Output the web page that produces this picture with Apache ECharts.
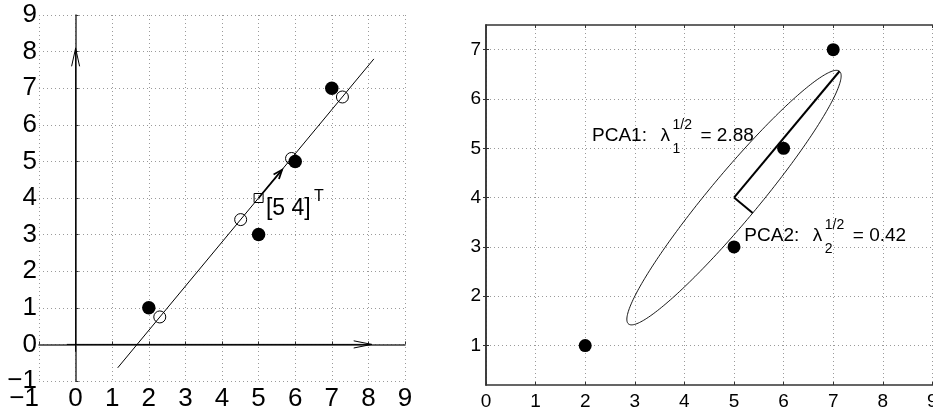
<!DOCTYPE html>
<html><head><meta charset="utf-8">
<script src="https://cdn.jsdelivr.net/npm/echarts@6/dist/echarts.min.js"></script>
<style>html,body{margin:0;padding:0;background:#fff;overflow:hidden}#c{width:933px;height:409px}</style>
</head><body><div id="c"></div>
<script>
// ---------- data ----------
const samplePoints = [[2, 1], [5, 3], [6, 5], [7, 7]];
const meanPoint = [[5, 4]];
const projectedPoints = [[2.30, 0.75], [4.51, 3.41], [5.90, 5.08], [7.29, 6.76]];
const fitLine = [[1.15, -0.64], [8.15, 7.80]];
const leftArrows = [[-0.24, 0, 8.09, 0], [0, -0.2, 0, 8.09], [5, 4, 5.64, 4.77]];
const pca1Line = [[5, 4], [7.127, 6.562]];
const pca2Line = [[5, 4], [5.377, 3.687]];
const ellipseParams = [[5, 4, 3.33, 0.49, 50.3]]; // center x, center y, semi-axis 1, semi-axis 2, angle (deg)
const leftTicks = [-1, 0, 1, 2, 3, 4, 5, 6, 7, 8, 9];
const rightXTicks = [0, 1, 2, 3, 4, 5, 6, 7, 8, 9];
const rightYTicks = [1, 2, 3, 4, 5, 6, 7];
const rightYRange = [0.2, 7.5];
const pca1Value = '2.88';
const pca2Value = '0.42';
const meanLabel = '[5 4]';

// ---------- styles ----------
const FONT = '"Liberation Sans", Arial, Helvetica, sans-serif';
const AX = '#333';
const GRIDC = '#9a9a9a';
const arrowStyles = [{ head: 18, half: 3.6, w: 1 }, { head: 18, half: 4, w: 1 }, { head: 9, half: 3.5, w: 1.8 }];
const annLeft = [[5.20, 3.70]];
const annPCA1 = [[2.137, 5.255]];
const annPCA2 = [[5.208, 3.22]];

const minus = v => String(v).replace('-', '\u2212');

function axisCommon(fontSize, margin) {
  return {
    type: 'value',
    axisLine: { show: true, lineStyle: { color: AX, width: 1.5 } },
    axisTick: { show: true, inside: true, length: 3, lineStyle: { color: AX, width: 1 } },
    splitLine: { show: true, lineStyle: { color: GRIDC, type: [1, 3], width: 1 } },
    axisLabel: { show: true, color: '#000', fontSize: fontSize, fontFamily: FONT, margin: margin, formatter: minus }
  };
}

function arrowRender(params, api) {
  const s = api.coord([api.value(0), api.value(1)]);
  const e = api.coord([api.value(2), api.value(3)]);
  const st = arrowStyles[params.dataIndex];
  const dx = e[0] - s[0], dy = e[1] - s[1], L = Math.hypot(dx, dy), ux = dx / L, uy = dy / L;
  const bx = e[0] - ux * st.head, by = e[1] - uy * st.head;
  const p1 = [bx - uy * st.half, by + ux * st.half], p2 = [bx + uy * st.half, by - ux * st.half];
  return {
    type: 'group', children: [
      { type: 'line', shape: { x1: s[0], y1: s[1], x2: e[0], y2: e[1] }, style: { stroke: '#000', lineWidth: st.w } },
      { type: 'polyline', shape: { points: [p1, e, p2] }, style: { stroke: '#000', lineWidth: st.w, fill: null } }
    ]
  };
}

function ellipseRender(params, api) {
  const cx = api.value(0), cy = api.value(1), a = api.value(2), b = api.value(3), th = api.value(4) * Math.PI / 180;
  const pts = [];
  for (let i = 0; i <= 240; i++) {
    const t = i / 240 * 2 * Math.PI;
    const x = cx + a * Math.cos(t) * Math.cos(th) - b * Math.sin(t) * Math.sin(th);
    const y = cy + a * Math.cos(t) * Math.sin(th) + b * Math.sin(t) * Math.cos(th);
    pts.push(api.coord([x, y]));
  }
  return { type: 'polygon', shape: { points: pts }, style: { fill: null, stroke: '#000', lineWidth: 0.9 } };
}

function txt(x, y, text, size, align, vAlign) {
  return { type: 'text', x: x, y: y, style: { text: text, fontSize: size, fontFamily: FONT, fill: '#000', align: align || 'left', verticalAlign: vAlign || 'middle' } };
}

function pcaLabelRender(name, sub, value) {
  return function (params, api) {
    const p = api.coord([api.value(0), api.value(1)]);
    return {
      type: 'group', children: [
        txt(p[0], p[1], name + ':', 19),
        txt(p[0] + 68.5, p[1], '\u03bb', 19),
        txt(p[0] + 80.5, p[1] - 11, '1/2', 14),
        txt(p[0] + 80.5, p[1] + 13, sub, 14),
        txt(p[0] + 108.5, p[1], '= ' + value, 19)
      ]
    };
  };
}

function meanLabelRender(params, api) {
  const p = api.coord([api.value(0), api.value(1)]);
  return {
    type: 'group', children: [
      txt(p[0], p[1], meanLabel, 23),
      txt(p[0] + 48, p[1] - 12.5, 'T', 16)
    ]
  };
}

// right-panel tick labels, placed through the axis scales
function xTickLabelRender(params, api) {
  const p = api.coord([api.value(0), api.value(1)]);
  return txt(p[0], p[1] + 7, minus(api.value(0)), 19, 'center', 'top');
}
function yTickLabelRender(params, api) {
  const p = api.coord([api.value(0), api.value(1)]);
  return txt(p[0] - 5, p[1], minus(api.value(1)), 19, 'right', 'middle');
}

const chart = echarts.init(document.getElementById('c'), null, { renderer: 'canvas' });

const xL = Object.assign(axisCommon(26, 5), { gridIndex: 0, min: leftTicks[0], max: leftTicks[leftTicks.length - 1], interval: 1 });
xL.axisLabel.alignMinLabel = 'right';
const yL = Object.assign(axisCommon(26, 2), { gridIndex: 0, min: leftTicks[0], max: leftTicks[leftTicks.length - 1], interval: 1 });
yL.axisLabel.padding = [5, 0, 0, 0];

const xR = Object.assign(axisCommon(19, 7), { gridIndex: 1, min: rightXTicks[0], max: rightXTicks[rightXTicks.length - 1], interval: 1 });
xR.axisLabel = { show: false };
const xRtop = Object.assign(axisCommon(19, 6), { gridIndex: 1, position: 'top', min: rightXTicks[0], max: rightXTicks[rightXTicks.length - 1], interval: 1 });
xRtop.axisLabel = { show: false }; xRtop.splitLine = { show: false };
const yR = Object.assign(axisCommon(19, 5), { gridIndex: 1, min: rightYRange[0], max: rightYRange[1] });
yR.axisTick.customValues = rightYTicks;
yR.axisLabel = { show: false, customValues: rightYTicks };
const yRright = Object.assign(axisCommon(19, 5), { gridIndex: 1, position: 'right', min: rightYRange[0], max: rightYRange[1] });
yRright.axisTick.customValues = rightYTicks;
yRright.axisLabel = { show: false }; yRright.splitLine = { show: false };

chart.setOption({
  animation: false,
  backgroundColor: '#fff',
  grid: [
    { left: 39, top: 15, width: 366, height: 366, containLabel: false, outerBoundsMode: 'none' },
    { left: 486, top: 25, width: 446.4, height: 360, containLabel: false, outerBoundsMode: 'none' }
  ],
  xAxis: [xL, xR, xRtop],
  yAxis: [yL, yR, yRright],
  series: [
    // ---- left panel ----
    { type: 'line', xAxisIndex: 0, yAxisIndex: 0, data: fitLine, symbol: 'none', lineStyle: { color: '#000', width: 1 }, z: 2 },
    { type: 'custom', xAxisIndex: 0, yAxisIndex: 0, data: leftArrows, renderItem: arrowRender, z: 2 },
    { type: 'scatter', xAxisIndex: 0, yAxisIndex: 0, data: projectedPoints, symbol: 'circle', symbolSize: 12,
      itemStyle: { color: 'rgba(0,0,0,0)', borderColor: '#000', borderWidth: 1, opacity: 1 }, z: 3 },
    { type: 'scatter', xAxisIndex: 0, yAxisIndex: 0, data: meanPoint, symbol: 'rect', symbolSize: 9,
      itemStyle: { color: 'rgba(0,0,0,0)', borderColor: '#000', borderWidth: 1, opacity: 1 }, z: 3 },
    { type: 'scatter', xAxisIndex: 0, yAxisIndex: 0, data: samplePoints, symbol: 'circle', symbolSize: 13.5,
      itemStyle: { color: '#000', opacity: 1 }, z: 4 },
    { type: 'custom', xAxisIndex: 0, yAxisIndex: 0, data: annLeft, renderItem: meanLabelRender, z: 5 },
    // ---- right panel ----
    { type: 'custom', xAxisIndex: 1, yAxisIndex: 1, clip: false, data: rightXTicks.map(v => [v, rightYRange[0]]), renderItem: xTickLabelRender, z: 5 },
    { type: 'custom', xAxisIndex: 1, yAxisIndex: 1, clip: false, data: rightYTicks.map(v => [rightXTicks[0], v]), renderItem: yTickLabelRender, z: 5 },
    { type: 'custom', xAxisIndex: 1, yAxisIndex: 1, data: annPCA1, renderItem: pcaLabelRender('PCA1', '1', pca1Value), z: 2 },
    { type: 'custom', xAxisIndex: 1, yAxisIndex: 1, data: annPCA2, renderItem: pcaLabelRender('PCA2', '2', pca2Value), z: 2 },
    { type: 'custom', xAxisIndex: 1, yAxisIndex: 1, data: ellipseParams, renderItem: ellipseRender, z: 3 },
    { type: 'line', xAxisIndex: 1, yAxisIndex: 1, data: pca1Line, symbol: 'none', lineStyle: { color: '#000', width: 2 }, z: 3 },
    { type: 'line', xAxisIndex: 1, yAxisIndex: 1, data: pca2Line, symbol: 'none', lineStyle: { color: '#000', width: 2 }, z: 3 },
    { type: 'scatter', xAxisIndex: 1, yAxisIndex: 1, data: samplePoints, symbol: 'circle', symbolSize: 13,
      itemStyle: { color: '#000', opacity: 1 }, z: 4 }
  ]
});
</script>
</body></html>
